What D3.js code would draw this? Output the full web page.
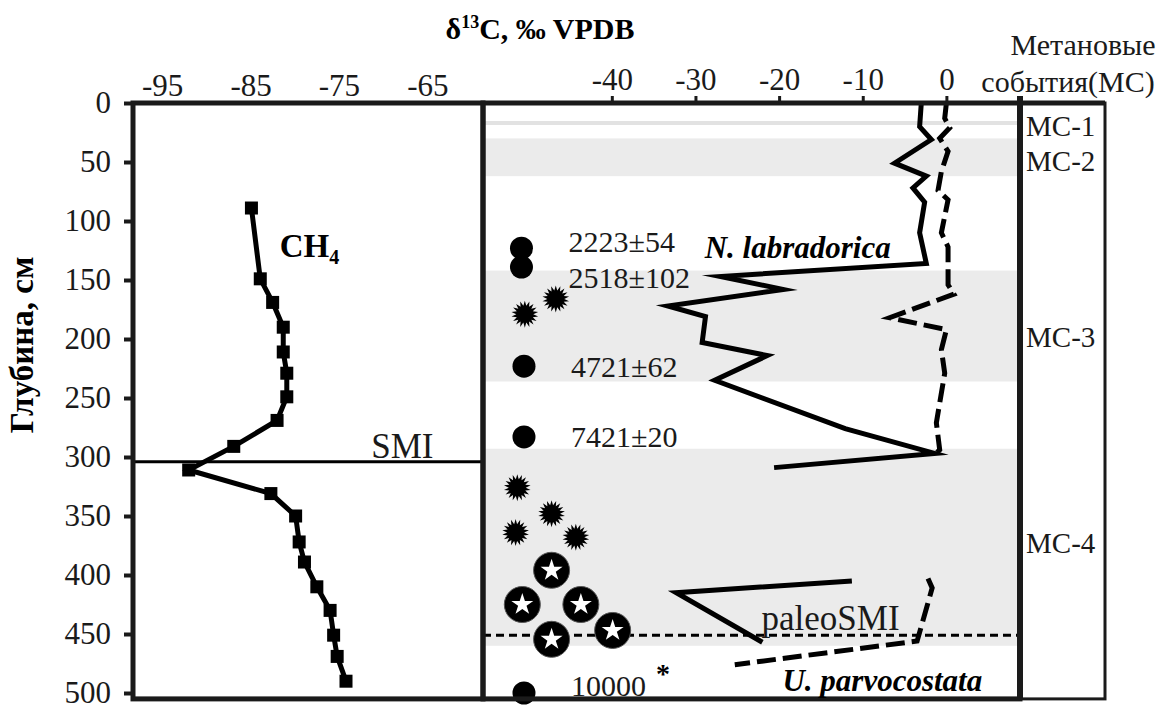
<!DOCTYPE html>
<html>
<head>
<meta charset="utf-8">
<script src="https://cdn.jsdelivr.net/npm/d3@7"></script>
<style>
  html, body { margin: 0; padding: 0; background: #fff; }
  svg { display: block; }
  svg text { font-family: "Liberation Serif", "Times New Roman", serif; }
</style>
</head>
<body>
<svg id="chart" width="1176" height="719" font-family="Liberation Serif, serif"></svg>
<script>
// ---- axis ticks ----
const depthTicks = [0, 50, 100, 150, 200, 250, 300, 350, 400, 450, 500];
const ch4Ticks = [-95, -85, -75, -65];
const carbTicks = [-40, -30, -20, -10, 0];

// ---- δ13C of methane in pore water (depth, cm / ‰) ----
const ch4Depth = [89, 149, 169, 190, 211, 229, 249, 269, 291, 311, 331, 350, 372, 389, 410, 430, 451, 469, 490];
const ch4Value = [-84.9, -83.9, -82.5, -81.3, -81.3, -80.9, -80.9, -82.0, -86.9, -92.0, -82.7, -79.9, -79.5, -78.9, -77.5, -76.0, -75.6, -75.2, -74.2];

// ---- N. labradorica, solid curve ----
const nlabSolidDepth = [0, 20, 31, 51, 62, 72, 84, 110, 136, 147, 158, 172, 181, 203, 214, 235, 276, 297, 309];
const nlabSolidValue = [-3.0, -3.2, -1.8, -6.2, -2.4, -4.0, -2.6, -3.2, -2.4, -27.0, -19.5, -33.3, -28.8, -29.2, -21.4, -27.7, -12.1, -1.4, -20.6];
// ---- N. labradorica, dashed curve ----
const nlabDashDepth = [0, 13, 21, 30, 41, 58, 74, 82, 110, 122, 154, 162, 182, 192, 209, 229, 271, 294, 298];
const nlabDashValue = [0.0, -0.2, 0.4, -0.8, 0.2, -0.6, -1.0, 0.2, -0.6, 0.2, 0.2, 0.9, -6.8, 0.0, -0.6, -0.2, -1.2, -0.8, -1.4];

// ---- U. parvocostata ----
const uparSolidDepth = [405, 415, 457];
const uparSolidValue = [-11.3, -32.3, -22.0];
const uparDashDepth = [403, 411, 456, 476];
const uparDashValue = [-2.2, -1.7, -3.5, -25.3];

// ---- methane events (МС) ----
const eventNames = ["МС-1", "МС-2", "МС-3", "МС-4"];
const eventTop = [17, 30, 142, 293];
const eventBottom = [17, 62, 236, 460];
const eventLabelDepth = [19.5, 49, 198, 373];

// ---- radiocarbon ages ----
const dateDepth = [123, 139, 223, 283, 500];
const dateX = [-50.8, -50.8, -50.5, -50.5, -50.5];
const dateText = ["2223±54", "2518±102", "4721±62", "7421±20", "10000"];
const dateLabelDepth = [117, 147.5, 223, 283, 494];

// ---- authigenic carbonate symbols ----
const sunDepth = [166, 179, 326, 348, 364, 368];
const sunX = [-46.7, -50.4, -51.3, -47.2, -51.5, -44.3];
const starDepth = [396, 425, 425, 447, 454.5];
const starX = [-47.2, -50.7, -43.7, -39.9, -47.2];

const smiDepth = 304;
const paleoSmiDepth = 451;

// ---- scales ----
const y = d3.scaleLinear().domain([0, 500]).range([103, 693]);
const xL = d3.scaleLinear().domain([-98.3, -58.7]).range([133, 483]);
const xR = d3.scaleLinear().domain([-55.4, 8.8]).range([483, 1020]);
const frameBottom = y(505);
const boxRight = 1105;
const SERIF = "'Liberation Serif', 'Times New Roman', serif";
const INK = "#1a1a1a";

const svg = d3.select("#chart");

// shaded event bands
const bands = svg.append("g");
eventNames.forEach((n, i) => {
  if (eventTop[i] === eventBottom[i]) {
    bands.append("line")
      .attr("x1", xR.range()[0]).attr("x2", xR.range()[1])
      .attr("y1", y(eventTop[i])).attr("y2", y(eventTop[i]))
      .attr("stroke", "#e2e2e2").attr("stroke-width", 4);
  } else {
    bands.append("rect")
      .attr("x", xR.range()[0]).attr("width", xR.range()[1] - xR.range()[0])
      .attr("y", y(eventTop[i])).attr("height", y(eventBottom[i]) - y(eventTop[i]))
      .attr("fill", "#ebebeb");
  }
});

// SMI line (left panel) and paleo-SMI line (right panel)
svg.append("line")
  .attr("x1", xL.range()[0]).attr("x2", xL.range()[1])
  .attr("y1", y(smiDepth)).attr("y2", y(smiDepth))
  .attr("stroke", "#000").attr("stroke-width", 3);
svg.append("line")
  .attr("x1", xR.range()[0]).attr("x2", xR.range()[1])
  .attr("y1", y(paleoSmiDepth)).attr("y2", y(paleoSmiDepth))
  .attr("stroke", "#000").attr("stroke-width", 3).attr("stroke-dasharray", "8,5");

// CH4 profile
const ch4Pts = ch4Depth.map((d, i) => [xL(ch4Value[i]), y(d)]);
svg.append("path").attr("d", d3.line()(ch4Pts))
  .attr("fill", "none").attr("stroke", "#000").attr("stroke-width", 5).attr("stroke-linejoin", "miter");
svg.append("g").selectAll("rect").data(ch4Pts).join("rect")
  .attr("x", p => p[0] - 6.5).attr("y", p => p[1] - 6.5)
  .attr("width", 13).attr("height", 13).attr("fill", "#000");

// foraminifera curves
function curve(depths, values, dashed) {
  const pts = depths.map((d, i) => [xR(values[i]), y(d)]);
  svg.append("path").attr("d", d3.line()(pts))
    .attr("fill", "none").attr("stroke", "#000").attr("stroke-width", 5)
    .attr("stroke-linejoin", "miter").attr("stroke-miterlimit", 10)
    .attr("stroke-dasharray", dashed ? "19,7" : null);
}
curve(nlabSolidDepth, nlabSolidValue, false);
curve(nlabDashDepth, nlabDashValue, true);
curve(uparSolidDepth, uparSolidValue, false);
curve(uparDashDepth, uparDashValue, true);

// radiocarbon age markers
svg.append("g").selectAll("circle").data(dateDepth).join("circle")
  .attr("cx", (d, i) => xR(dateX[i])).attr("cy", d => y(d)).attr("r", 11.5).attr("fill", "#000");
svg.append("g").selectAll("text").data(dateText).join("text")
  .attr("x", (t, i) => xR(dateX[i]) + 47).attr("y", (t, i) => y(dateLabelDepth[i]))
  .attr("dominant-baseline", "central").attr("font-size", 30).attr("fill", INK)
  .style("font-family", SERIF).text(t => t);
svg.append("text").attr("x", xR(dateX[4]) + 132).attr("y", y(dateLabelDepth[4]) - 3)
  .attr("font-size", 28).attr("font-weight", "bold").style("font-family", SERIF).text("*");

// starburst symbols
function sunPath(rOut, rIn, n) {
  const pts = [];
  for (let k = 0; k < 2 * n; k++) {
    const r = k % 2 === 0 ? rOut : rIn;
    const a = Math.PI * k / n;
    pts.push([r * Math.sin(a), -r * Math.cos(a)]);
  }
  return d3.line()(pts) + "Z";
}
svg.append("g").selectAll("path").data(sunDepth).join("path")
  .attr("transform", (d, i) => `translate(${xR(sunX[i])},${y(d)})`)
  .attr("d", sunPath(13.5, 8.5, 18)).attr("fill", "#000");

// circled star symbols
const starG = svg.append("g").selectAll("g").data(starDepth).join("g")
  .attr("transform", (d, i) => `translate(${xR(starX[i])},${y(d)})`);
starG.append("circle").attr("r", 18).attr("fill", "#000").attr("stroke", "#555").attr("stroke-width", 1);
starG.append("path").attr("d", d3.symbol(d3.symbolStar, 150)()).attr("fill", "#fff");

// frames
const frame = svg.append("g").attr("fill", "none").attr("stroke", INK);
frame.append("rect").attr("x", xL.range()[0]).attr("y", y(0))
  .attr("width", xL.range()[1] - xL.range()[0]).attr("height", frameBottom - y(0)).attr("stroke-width", 5);
frame.append("rect").attr("x", xR.range()[0]).attr("y", y(0))
  .attr("width", xR.range()[1] - xR.range()[0]).attr("height", frameBottom - y(0)).attr("stroke-width", 5);
frame.append("rect").attr("x", xR.range()[1]).attr("y", y(0))
  .attr("width", boxRight - xR.range()[1]).attr("height", frameBottom - y(0)).attr("stroke-width", 3);
frame.append("line").attr("x1", xR.range()[1]).attr("x2", boxRight).attr("y1", y(0)).attr("y2", y(0)).attr("stroke-width", 5);
frame.append("line").attr("x1", xR.range()[1]).attr("x2", xR.range()[1]).attr("y1", y(0) - 7).attr("y2", frameBottom).attr("stroke-width", 6);

// axes
function styleAxis(g, size) {
  g.attr("font-family", null);
  g.select(".domain").remove();
  g.selectAll(".tick line").attr("stroke", INK).attr("stroke-width", 4);
  g.selectAll(".tick text").attr("font-size", size).attr("fill", INK).style("font-family", SERIF);
}
const plain = d => String(d);
svg.append("g").attr("transform", `translate(${xL.range()[0]},0)`)
  .call(d3.axisLeft(y).tickValues(depthTicks).tickFormat(plain).tickSize(9).tickPadding(13))
  .call(g => styleAxis(g, 31));
svg.append("g").attr("transform", `translate(0,${y(0)})`)
  .call(d3.axisTop(xL).tickValues(ch4Ticks).tickFormat(plain).tickSize(0).tickPadding(7))
  .call(g => styleAxis(g, 31));
svg.append("g").attr("transform", `translate(0,${y(0)})`)
  .call(d3.axisTop(xR).tickValues(carbTicks).tickFormat(plain).tickSize(7).tickPadding(6))
  .call(g => { styleAxis(g, 31); g.selectAll(".tick line").attr("stroke-width", 3); });

// event labels
svg.append("g").selectAll("text").data(eventNames).join("text")
  .attr("x", xR.range()[1] + 6).attr("y", (n, i) => y(eventLabelDepth[i]))
  .attr("dominant-baseline", "central").attr("font-size", 29).attr("fill", INK)
  .style("font-family", SERIF).text(n => n);

// titles
const title = svg.append("text").attr("x", 540).attr("y", 39)
  .attr("text-anchor", "middle").attr("font-size", 30).attr("font-weight", "bold")
  .style("font-family", SERIF);
title.append("tspan").text("δ");
title.append("tspan").attr("font-size", 18).attr("dy", -11).text("13");
title.append("tspan").attr("dy", 11).text("C, ‰ VPDB");

svg.append("text").attr("x", 1083).attr("y", 55).attr("text-anchor", "middle")
  .attr("font-size", 30).attr("fill", INK).style("font-family", SERIF).text("Метановые");
svg.append("text").attr("x", 1068).attr("y", 92).attr("text-anchor", "middle")
  .attr("font-size", 30).attr("fill", INK).style("font-family", SERIF).text("события(МС)");

svg.append("text").attr("transform", `translate(33,${y(205)}) rotate(-90)`)
  .attr("text-anchor", "middle").attr("font-size", 33).attr("font-weight", "bold")
  .style("font-family", SERIF).text("Глубина, см");

// curve annotations
const ch4Label = svg.append("text").attr("x", xL(-81.7)).attr("y", y(120) + 12)
  .attr("font-size", 33).attr("font-weight", "bold").style("font-family", SERIF);
ch4Label.append("tspan").text("CH");
ch4Label.append("tspan").attr("font-size", 20).attr("dy", 7).text("4");

svg.append("text").attr("x", xL(-64.3)).attr("y", y(smiDepth) - 4)
  .attr("text-anchor", "end").attr("font-size", 35).attr("fill", INK).style("font-family", SERIF).text("SMI");
svg.append("text").attr("x", xR(-22.1)).attr("y", y(paleoSmiDepth) - 5)
  .attr("font-size", 35).attr("fill", INK).style("font-family", SERIF).text("paleoSMI");

svg.append("text").attr("x", xR(-28.9)).attr("y", y(123) + 10)
  .attr("font-size", 31).attr("font-weight", "bold").attr("font-style", "italic")
  .style("font-family", SERIF).text("N. labradorica");
svg.append("text").attr("x", xR(-19.6)).attr("y", y(489) + 11)
  .attr("font-size", 31).attr("font-weight", "bold").attr("font-style", "italic")
  .style("font-family", SERIF).text("U. parvocostata");
</script>
</body>
</html>
